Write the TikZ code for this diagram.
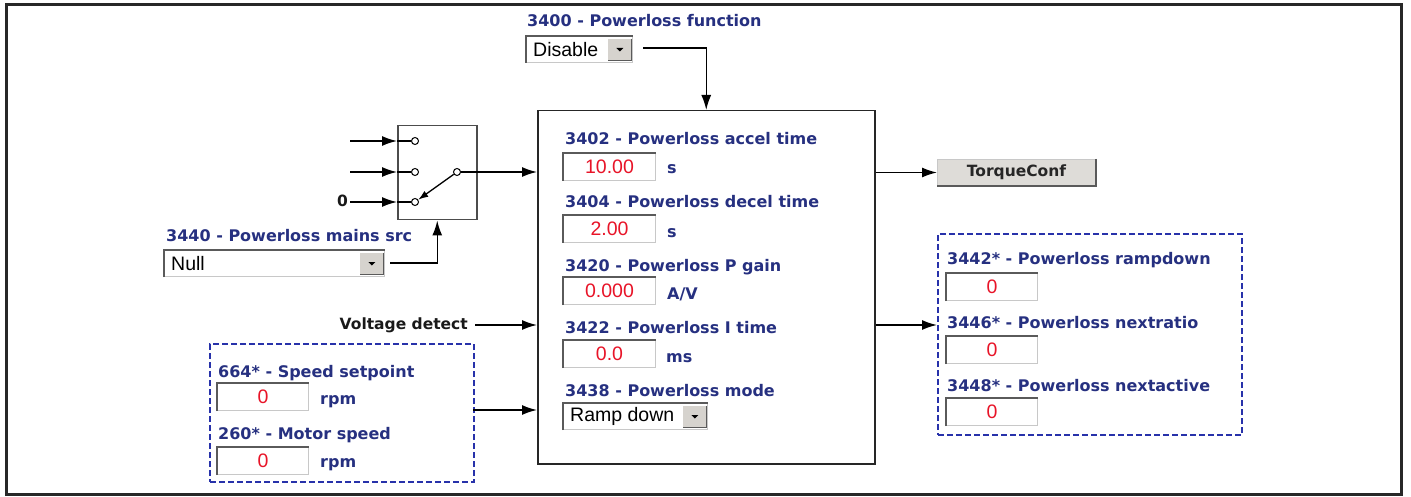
\documentclass[tikz,border=0pt]{standalone}
\usepackage{fontspec}
\usetikzlibrary{arrows.meta}
\newfontfamily\dvs{DejaVu Sans}
\newfontfamily\las{Liberation Sans}
\definecolor{lblblue}{RGB}{38,48,128}
\definecolor{valred}{RGB}{232,20,40}
\definecolor{dashblue}{RGB}{40,50,170}
\definecolor{fieldlight}{RGB}{200,200,200}
\definecolor{fielddark}{RGB}{90,90,90}
\definecolor{btngray}{RGB}{214,211,206}
\definecolor{framegray}{RGB}{40,40,40}
\tikzset{
  lbl/.style={anchor=base west, inner sep=0pt, font=\dvs\bfseries\fontsize{16}{19}\selectfont, text=lblblue},
  blk/.style={anchor=base west, inner sep=0pt, font=\dvs\bfseries\fontsize{15.5}{18}\selectfont, text=black!90},
  fieldbox/.style={anchor=north west, draw=fieldlight, fill=white, line width=1pt, minimum height=27pt, inner sep=0pt, font=\las\fontsize{19.5}{22}\selectfont, text=valred},
  ddbox/.style={anchor=north west, draw=fieldlight, fill=white, line width=1pt, minimum height=26pt, inner sep=0pt},
  ddtext/.style={anchor=west, inner sep=0pt, font=\las\fontsize{19.5}{22}\selectfont, text=black},
  ddbtn/.style={anchor=east, fill=btngray, minimum width=23pt, minimum height=21pt, inner sep=0pt},
  inset/.style={draw=fielddark, line width=1.6pt},
  arr/.style={line width=1.5pt, -{Latex[length=15pt,width=10pt]}},
  ln/.style={line width=1.5pt},
  term/.style={circle, draw, fill=white, inner sep=0pt, minimum size=7pt, line width=1pt},
  dashbox/.style={anchor=north west, draw=dashblue, line width=2.4pt, dash pattern=on 6pt off 3pt, inner sep=0pt},
}
\newcommand\fld[5]{%
  \node[fieldbox, minimum width=#4] (#1) at (#2,#3) {#5};
  \draw[inset] (#1.south west) -- (#1.north west) -- (#1.north east);}
\newcommand\dropdown[5]{%
  \node[ddbox, minimum width=#4] (#1) at (#2,#3) {};
  \draw[inset] (#1.south west) -- (#1.north west) -- (#1.north east);
  \node[ddtext] (#1t) at ([xshift=7pt]#1.west) {#5};
  \node[ddbtn] (#1b) at ([xshift=-1.5pt]#1.east) {};
  \draw[draw=fielddark, line width=1.2pt] (#1b.north east) -- (#1b.south east) -- (#1b.south west);
  \fill ([xshift=-3.5pt,yshift=1.5pt]#1b.center) -- ++(7,0) -- ++(-3.5,3.5) -- cycle;}
\begin{document}
\begin{tikzpicture}[x=1pt,y=-1pt]
\useasboundingbox (0,0) rectangle (1411,497);
\draw[draw=framegray, line width=3pt] (6,4.5) rectangle (1401,494);

% 3400 Powerloss function
\node[lbl] (l3400) at (527,26.5) {3400 - Powerloss function};
\dropdown{dis}{526}{36}{106}{Disable}

% main box
\node[anchor=north west, draw=black!85, line width=1.5pt, minimum width=337pt, minimum height=353pt, inner sep=0pt] (main) at (537,110) {};
\coordinate (disout) at (643,48);
\draw[arr] (disout) -| (main.north);

\node[lbl] (l3402) at (565,145) {3402 - Powerloss accel time};
\fld{f3402}{563}{153}{92}{10.00}
\node[lbl] (u3402) at (667,174) {s};
\node[lbl] (l3404) at (565,208) {3404 - Powerloss decel time};
\fld{f3404}{563}{215}{92}{2.00}
\node[lbl] (u3404) at (667,237) {s};
\node[lbl] (l3420) at (565,271) {3420 - Powerloss P gain};
\fld{f3420}{563}{277}{92}{0.000}
\node[lbl] (u3420) at (667,299) {A/V};
\node[lbl] (l3422) at (565,333) {3422 - Powerloss I time};
\fld{f3422}{563}{340}{92}{0.0}
\node[lbl] (u3422) at (666,362) {ms};
\node[lbl] (l3438) at (565,396) {3438 - Powerloss mode};
\dropdown{mode}{563}{403}{144}{Ramp down}

% switch
\node[anchor=north west, draw=black!70, line width=1.5pt, minimum width=79pt, minimum height=94pt, inner sep=0pt] (sw) at (397,125) {};
\node[term] (t1) at (415,141) {};
\node[term] (t2) at (415,172) {};
\node[term] (t3) at (415,202) {};
\node[term] (tc) at (457,172) {};
\coordinate (i1) at (350,141);
\coordinate (i2) at (350,172);
\coordinate (i3) at (350,202);
\node[blk, anchor=base east] (zero) at (348,207) {0};
\draw[arr] (i1) -- (sw.west |- i1);
\draw[ln] (sw.west |- i1) -- (t1);
\draw[arr] (i2) -- (sw.west |- i2);
\draw[ln] (sw.west |- i2) -- (t2);
\draw[arr] (i3) -- (sw.west |- i3);
\draw[ln] (sw.west |- i3) -- (t3);
\draw[line width=1.3pt, -{Latex[length=10pt,width=7pt]}] (tc) -- (t3);
\draw[arr] (tc) -- (main.west |- tc);

% 3440 mains src
\node[lbl] (l3440) at (166,242) {3440 - Powerloss mains src};
\dropdown{null}{164}{250}{220}{Null}
\coordinate (nullout) at (390,263);
\draw[arr] (nullout) -| (sw.south);

% voltage detect
\node[blk, anchor=base east] (vd) at (468,329) {Voltage detect};
\coordinate (vdo) at (475,325);
\draw[arr] (vdo) -- (main.west |- vdo);

% left dashed box
\node[dashbox, minimum width=264pt, minimum height=138pt] (ldash) at (209,343) {};
\node[lbl] (l664) at (218,377) {664* - Speed setpoint};
\fld{f664}{217}{383}{91}{0}
\node[lbl] (u664) at (320,404) {rpm};
\node[lbl] (l260) at (218,439) {260* - Motor speed};
\fld{f260}{217}{447}{91}{0}
\node[lbl] (u260) at (320,467) {rpm};
\coordinate (ldo) at (473,410);
\draw[arr] (ldo) -- (main.west |- ldo);

% TorqueConf
\node[anchor=north west, fill=btngray!80, draw=fieldlight, line width=1pt, minimum width=158pt, minimum height=26pt, inner sep=0pt, font=\dvs\bfseries\fontsize{15.5}{18}\selectfont, text=black!85] (tq) at (937,159) {TorqueConf};
\draw[draw=fielddark, line width=1.6pt] (tq.north east) -- (tq.south east) -- (tq.south west);
\draw[arr] (main.east |- tq) -- (tq.west);

% right dashed box
\node[dashbox, minimum width=304pt, minimum height=201pt] (rdash) at (937,233) {};
\coordinate (ro) at (874,325);
\draw[arr] (main.east |- ro) -- (rdash.west |- ro);
\node[lbl] (l3442) at (947,265) {3442* - Powerloss rampdown};
\fld{f3442}{946}{273}{91}{0}
\node[lbl] (l3446) at (947,328) {3446* - Powerloss nextratio};
\fld{f3446}{946}{336}{91}{0}
\node[lbl] (l3448) at (947,391) {3448* - Powerloss nextactive};
\fld{f3448}{946}{398}{91}{0}
\end{tikzpicture}
\end{document}
